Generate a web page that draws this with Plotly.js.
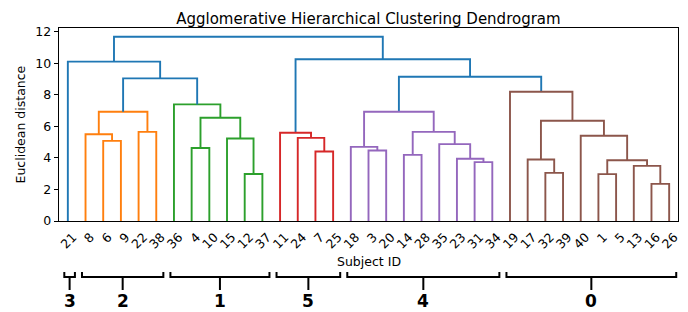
<!DOCTYPE html>
<html>
<head>
<meta charset="utf-8">
<script src="https://cdn.plot.ly/plotly-3.0.1.min.js"></script>
<style>html,body{margin:0;padding:0;background:#fff;}#chart{width:688px;height:312px;}</style>
</head>
<body>
<div id="chart"></div>
<script>
// ---- data ----
const leaves = ['21','8','6','9','22','38','36','4','10','15','12','37','11','24','7','25',
  '18','3','20','14','28','35','23','31','34','19','17','32','39','40','1','5','13','16','26'];
// linkage: string = leaf label, number = index of an earlier merge
const mergeLeft  = ['6','8','22',1,'4','12','15',4,'36',3,'21','7','24','11','3','18','14','31','23','35',16,15,'32','17','1','16','13',24,'40',23,'19',21,13,10];
const mergeRight = ['9',0,'38',2,'10','37',5,6,7,8,9,'25',11,12,'20',14,'28','34',17,18,19,20,'39',22,'5','26',25,26,27,28,29,30,31,32];
const mergeHeight = [5.08,5.50,5.65,6.92,4.63,2.98,5.23,6.54,7.39,9.04,10.10,4.40,5.27,5.59,4.47,4.70,4.19,3.73,3.94,4.87,5.65,6.92,3.05,3.90,2.97,2.35,3.49,3.85,5.40,6.35,8.19,9.14,10.25,11.68];
const mergeGroup = ['2','2','2','2','1','1','1','1','1','link','link','5','5','5','4','4','4','4','4','4','4','4','0','0','0','0','0','0','0','0','0','link','link','link'];
const clusterNames = ['3','2','1','5','4','0'];
const clusterFirst = ['21','8','36','11','18','19'];
const clusterLast  = ['21','38','37','25','34','26'];

// ---- styles ----
const groupColor = {'link':'#1f77b4','2':'#ff7f0e','1':'#2ca02c','5':'#d62728','4':'#9467bd','0':'#8c564b'};
const FONT = 'DejaVu Sans, Verdana, sans-serif';

// ---- build dendrogram segments ----
const centers = [];
function node(c){
  if (typeof c === 'string') return {x: leaves.indexOf(c), h: 0};
  return {x: centers[c], h: mergeHeight[c]};
}
const segs = {};
for (let i = 0; i < mergeHeight.length; i++){
  const a = node(mergeLeft[i]), b = node(mergeRight[i]);
  centers[i] = (a.x + b.x) / 2;
  const g = mergeGroup[i];
  if (!segs[g]) segs[g] = {x: [], y: []};
  segs[g].x.push(a.x, a.x, b.x, b.x, null);
  segs[g].y.push(a.h, mergeHeight[i], mergeHeight[i], b.h, null);
}
const traces = ['2','1','link','5','4','0'].map(g => ({
  type: 'scatter', mode: 'lines', x: segs[g].x, y: segs[g].y,
  line: {color: groupColor[g], width: 1.9}, hoverinfo: 'skip', showlegend: false
}));

// ---- brackets and cluster numbers below axis ----
const yTop = -0.264, yH = -0.290, yBot = -0.3575, yNum = -0.414;
const shapes = [], annotations = [];
clusterNames.forEach((name, k) => {
  const x0 = leaves.indexOf(clusterFirst[k]) - 0.2;
  const x1 = leaves.indexOf(clusterLast[k]) + 0.4;
  const xc = (x0 + x1) / 2;
  shapes.push({type: 'path', xref: 'x', yref: 'paper',
    path: `M ${x0},${yTop} L ${x0},${yH} L ${x1},${yH} L ${x1},${yTop} M ${xc},${yH} L ${xc},${yBot}`,
    line: {color: '#000', width: 2}});
  annotations.push({xref: 'x', yref: 'paper', x: xc, y: yNum, text: '<b>' + name + '</b>',
    showarrow: false, xanchor: 'center', yanchor: 'middle',
    font: {family: FONT, size: 17, color: '#000'}});
});
annotations.push({xref: 'paper', yref: 'paper', x: 0.5, y: -0.21, text: 'Subject ID', showarrow: false,
  xanchor: 'center', yanchor: 'middle', font: {family: FONT, size: 12.5, color: '#000'}});
annotations.push({xref: 'paper', yref: 'paper', x: -0.0614, y: 0.5, text: 'Euclidean distance', showarrow: false,
  textangle: -90, xanchor: 'center', yanchor: 'middle', font: {family: FONT, size: 12.5, color: '#000'}});

const layout = {
  width: 688, height: 312,
  margin: {l: 59, r: 10, t: 28, b: 91, pad: 0},
  paper_bgcolor: '#fff', plot_bgcolor: '#fff',
  font: {family: FONT, size: 12.5, color: '#000'},
  title: {text: 'Agglomerative Hierarchical Clustering Dendrogram', font: {family: FONT, size: 15, color: '#000'},
    x: 0.5355, xanchor: 'center', yref: 'container', y: 1 - 18.5/312, yanchor: 'middle'},
  xaxis: {range: [-0.5, leaves.length - 0.5], tickmode: 'array',
    tickvals: leaves.map((_, i) => i), ticktext: leaves, tickangle: -45,
    ticks: '', ticklabelstandoff: 3, ticklabelshift: 5,
    showgrid: false, zeroline: false, showline: true, mirror: true, linecolor: '#000', linewidth: 1,
    tickfont: {family: FONT, size: 12.5, color: '#000'}, fixedrange: true},
  yaxis: {range: [0, 12.23], tickmode: 'linear', tick0: 0, dtick: 2,
    ticks: 'outside', ticklen: 4.4, tickwidth: 1, tickcolor: '#000',
    showgrid: false, zeroline: false, showline: true, mirror: true, linecolor: '#000', linewidth: 1,
    tickfont: {family: FONT, size: 12.5, color: '#000'}, fixedrange: true},
  shapes: shapes,
  annotations: annotations
};
Plotly.newPlot('chart', traces, layout, {displayModeBar: false, staticPlot: true});
</script>
</body>
</html>
